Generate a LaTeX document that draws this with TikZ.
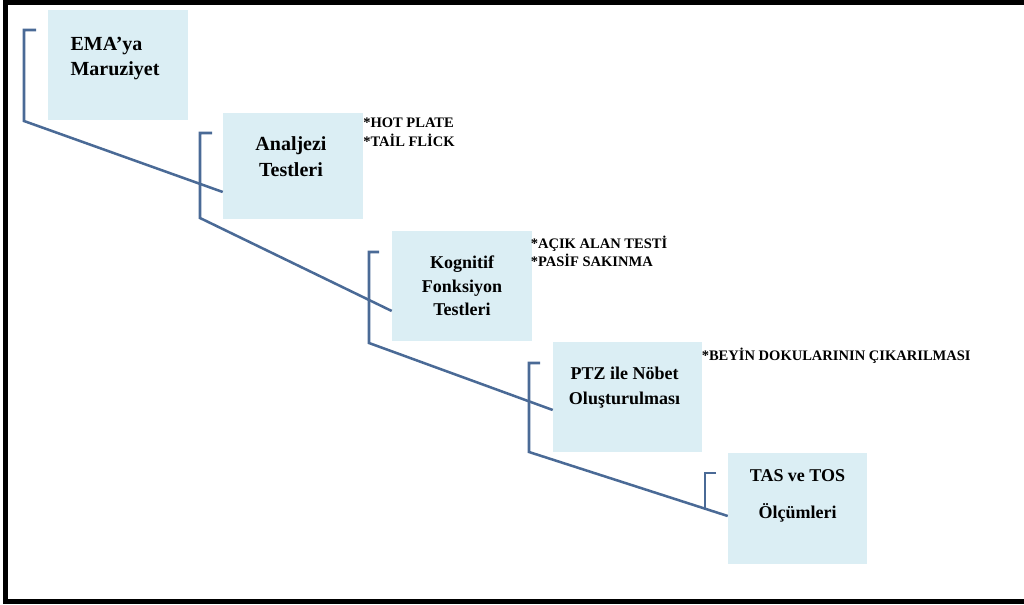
\documentclass[tikz,border=0pt]{standalone}
\usepackage{fontspec}
\setmainfont{Liberation Serif}
\usetikzlibrary{calc}
\definecolor{stepline}{RGB}{74,106,150}
\definecolor{stepfill}{RGB}{219,238,244}
\tikzset{
    stage/.style={fill=stepfill, inner sep=0pt},
    stagetext/.style={align=center, inner sep=0pt},
    link/.style={stepline, line width=1.9pt, line join=miter},
    note/.style={anchor=north west, inner sep=0pt, align=left, font=\fontsize{10.9}{13.8}\selectfont\bfseries},
    frame/.style={black, line width=3.75pt},
}

\begin{document}
\begin{tikzpicture}[x=0.75pt, y=-0.75pt]
    \useasboundingbox (0,0) rectangle (1024,605);
    \draw[frame] (1024,2.5) -- (5.5,2.5) -- (5.5,601.5) -- (1024,601.5);

    % the five stages
    \node[stage, minimum width=105pt, minimum height=82.5pt,
        label={[stagetext, align=left, xshift=-2.25pt, yshift=4.5pt, font=\fontsize{15}{18.75}\selectfont\bfseries]center:{EMA’ya\\Maruziyet}}] (ema) at (118,65) {};
    \node[stage, minimum width=105pt, minimum height=79.5pt,
        label={[stagetext, xshift=-1.5pt, yshift=7pt, font=\fontsize{15}{19.5}\selectfont\bfseries]center:{Analjezi\\Testleri}}] (analjezi) at (293,166) {};
    \node[stage, minimum width=105pt, minimum height=82.5pt,
        label={[stagetext, font=\fontsize{13.5}{17.6}\selectfont\bfseries]center:{Kognitif\\Fonksiyon\\Testleri}}] (kognitif) at (462,286) {};
    \node[stage, minimum width=111.75pt, minimum height=82.5pt,
        label={[stagetext, xshift=-2.25pt, yshift=7pt, font=\fontsize{13.5}{18.75}\selectfont\bfseries]center:{PTZ ile Nöbet\\Oluşturulması}}] (ptz) at (627.5,397) {};
    \node[stage, minimum width=104.25pt, minimum height=83.25pt,
        label={[stagetext, yshift=9.5pt, font=\fontsize{13.5}{27.75}\selectfont\bfseries]center:{TAS ve TOS\\Ölçümleri}}] (tas) at (797.5,508.5) {};

    % notes beside the stages
    \node[note] (hotplate) at (363,118) {*HOT PLATE\\*TAİL FLİCK};
    \node[note] (acikalan) at (530.5,235.5) {*AÇIK ALAN TESTİ\\*PASİF SAKINMA};
    \node[note] (beyin) at (701.5,347.5) {*BEYİN DOKULARININ ÇIKARILMASI};

    % brackets and links
    \coordinate (b1) at (36,30);
    \coordinate (b2) at (212,133);
    \coordinate (b3) at (379,252);
    \coordinate (b4) at (540,363);
    \coordinate (b5) at (716,473);
    \draw[link] (b1) -- ++(-12,0) -- ++(0,91) -- ($(analjezi.west)+(0,26)$);
    \draw[link] (b2) -- ++(-12,0) -- ++(0,85) -- ($(kognitif.west)+(0,25)$);
    \draw[link] (b3) -- ++(-10,0) -- ++(0,91) -- ($(ptz.west)+(0,13)$);
    \draw[link] (b4) -- ++(-11,0) -- ++(0,89) -- ($(tas.west)+(0,7.5)$);
    \draw[link] (b5) -- ++(-11,0) -- ++(0,36);
\end{tikzpicture}
\end{document}
